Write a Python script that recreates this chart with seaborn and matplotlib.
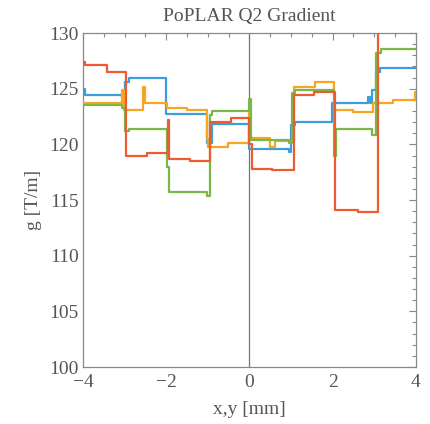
import numpy as np
import pandas as pd
import matplotlib
matplotlib.use("Agg")
import matplotlib.pyplot as plt
from matplotlib.ticker import MultipleLocator
import seaborn as sns

# step edges (mm) and gradient values (T/m) per segment
blue_x = [-4, -3.96, -3.07, -2.99, -2.89, -2.0, -1.03, -0.89, 0.0, 0.94, 1.0, 1.1,
          1.99, 2.86, 2.9, 2.95, 3.03, 3.14, 4]
blue_g = [125.0, 124.4, 124.2, 125.6, 126.0, 122.7, 120.1, 121.8, 119.6, 119.3, 121.7,
          122.0, 123.7, 124.3, 123.7, 124.9, 126.5, 126.9]

orange_x = [-4, -3.07, -3.01, -2.57, -2.51, -1.97, -1.51, -1.03, -0.99, -0.52, -0.02,
            0.02, 0.5, 0.62, 1.06, 1.58, 2.04, 2.5, 2.98, 3.46, 3.98, 4]
orange_g = [123.7, 124.9, 123.1, 125.2, 123.7, 123.3, 123.1, 120.5, 119.8, 120.1, 122.9,
            120.6, 119.8, 120.3, 125.2, 125.6, 123.1, 122.9, 123.7, 124.0, 124.7]

green_x = [-4, -3.07, -2.99, -2.9, -1.99, -1.93, -1.03, -0.96, -0.89, 0.0, 0.03, 0.95,
           1.02, 1.1, 2.04, 2.07, 2.95, 3.04, 3.15, 4]
green_g = [123.5, 123.3, 121.2, 121.4, 118.0, 115.7, 115.4, 122.6, 123.0, 124.1, 120.4,
           120.1, 124.6, 124.9, 119.0, 121.4, 120.8, 128.2, 128.6]

red_x = [-4, -3.95, -3.43, -2.97, -2.47, -1.95, -1.93, -1.43, -0.96, -0.45, 0.0, 0.05,
         0.55, 1.08, 1.56, 2.06, 2.62, 3.08, 4]
red_g = [127.4, 127.1, 126.5, 119.0, 119.2, 122.2, 118.7, 118.5, 122.0, 122.4, 120.0,
         117.8, 117.7, 124.4, 124.7, 114.1, 113.9, 131.0]

names = ["blue", "orange", "green", "red"]
colors = ["#3d9ed8", "#f6a623", "#7ab648", "#ee5b30"]

frames = []
for name, xs, gs in zip(names, [blue_x, orange_x, green_x, red_x],
                        [blue_g, orange_g, green_g, red_g]):
    frames.append(pd.DataFrame({"x": xs, "g": gs + [gs[-1]], "s": name}))
df = pd.concat(frames, ignore_index=True)

sns.set_style("white")
plt.rcParams["font.family"] = ["Liberation Serif", "DejaVu Serif"]
grey = "#555555"

fig = plt.figure(figsize=(4.31, 4.24), dpi=100)
ax = fig.add_axes([0.1926, 0.1344, 0.7724, 0.7876])
ax.axvline(0, color="#777777", lw=0.9, zorder=1)
sns.lineplot(data=df, x="x", y="g", hue="s", palette=dict(zip(names, colors)),
             drawstyle="steps-post", estimator=None, sort=False, lw=1.6,
             legend=False, ax=ax, zorder=3)

ax.set_xlim(-4, 4)
ax.set_ylim(100, 130)
ax.xaxis.set_major_locator(MultipleLocator(2))
ax.xaxis.set_minor_locator(MultipleLocator(0.5))
ax.yaxis.set_major_locator(MultipleLocator(5))
ax.yaxis.set_minor_locator(MultipleLocator(1))
ax.tick_params(which="both", direction="in", top=True, right=True, colors="#888888",
               labelcolor=grey, labelsize=14, width=0.8)
ax.tick_params(which="major", length=5)
ax.tick_params(which="minor", length=3)
ax.tick_params(axis="x", which="major", pad=5)
ax.tick_params(axis="y", which="major", pad=3)
for sp in ax.spines.values():
    sp.set_color("#888888")
    sp.set_linewidth(0.9)

ax.set_xticks([-4, -2, 0, 2, 4], ["\u22124", "\u22122", "0", "2", "4"])
ax.set_xlabel("x,y [mm]", fontsize=14, color=grey, labelpad=7)
ax.set_ylabel("g [T/m]", fontsize=14, color=grey, labelpad=5)
ax.set_title("PoPLAR Q2 Gradient", fontsize=14, color=grey, pad=9)

fig.savefig("out.png", dpi=100)
